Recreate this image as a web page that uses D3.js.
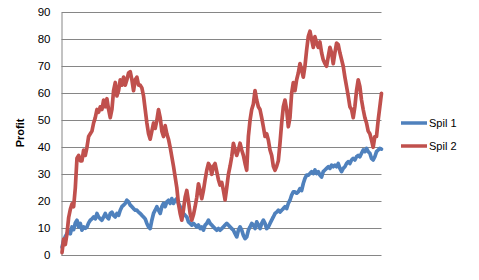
<!DOCTYPE html>
<html>
<head>
<meta charset="utf-8">
<script src="https://cdn.jsdelivr.net/npm/d3@7"></script>
<style>
  body { margin: 0; background: #fff; }
  text { font-family: "Liberation Sans", Arial, sans-serif; }
</style>
</head>
<body>
<script>
var width = 479, height = 280;

var seriesNames = ["Spil 1", "Spil 2"];
var yTicks = [0, 10, 20, 30, 40, 50, 60, 70, 80, 90];

// values, left to right
var spil1 = [
  3, 5.5, 7, 8, 9, 8, 10.5, 9.5, 12, 13, 10.5, 11.8, 9.3, 10.5, 10, 10.5, 12, 13, 13.5, 14.2,
  13.5, 15.5, 14.2, 13.5, 13, 14.2, 15.5, 14.2, 13.5, 15.5, 16, 14.8, 14.2, 15.5, 14.8, 16.7, 18, 18.6, 19.2, 20.4,
  19.8, 18.6, 18, 17.3, 16.7, 16.7, 16,
  15.5, 14.8, 14.2, 13.5, 11.8, 10.5, 9.9, 13, 15.5, 16.7, 18, 16.7, 15.5, 18, 19.2, 18, 19.8, 20.4, 19.2, 21,
  19.2, 20.4, 21, 19.2, 18, 16.7, 15.5, 14.8, 14.2, 12.4, 11.8, 11.2, 11.8, 11.2, 10.5, 11.2, 9.9, 10.5, 9.3, 11.2,
  11.8, 13, 11.8, 11.2, 10.5, 9.9, 9.3, 9.9,
  9.3, 9.9, 10.5, 11.2, 11.8, 11.2, 10.5, 9.9, 9.3, 8, 6.8, 9.3, 10.5, 9.3, 7.4, 6.2, 6.8, 9.3, 10.5, 11.8,
  11.2, 9.9, 12.4, 11.2, 9.9, 11.8, 13, 11.8, 9.9, 10.5, 11.8, 13, 14.2, 15.5, 16, 16.7, 16, 16.7, 17.3, 18,
  17.3, 19.2, 20.4, 22.3, 23.5, 23.5, 23, 23.5,
  24.7, 24, 26.6, 28.5, 29.7, 29.7, 30.3, 31, 30.3, 31.6, 30.3, 31, 29.7, 29, 31, 31.6, 32.2, 32.8, 32.2, 33.4,
  32.8, 33.4, 32.8, 34, 32.2, 31, 32.2, 32.8, 34, 34.7, 34, 35.3, 35.9, 35.3, 36.5, 37, 36.5, 37.8, 39, 38.4,
  39.6, 38.4, 37.8, 35.9, 35.3, 36.5, 38.4, 39, 39.6, 39.3
];

var spil2 = [
  1, 6, 4, 8, 14, 17, 19, 18, 25, 36, 37, 35, 35, 39, 37, 40, 44, 45, 46, 49,
  51, 54, 53, 55, 54, 57.5, 55, 58, 54, 51, 54, 61, 64, 59, 61, 65, 63, 66, 63, 65,
  67.5, 68, 65, 61, 65, 66, 63,
  63, 62, 59, 54, 49, 45, 43, 46, 49, 47, 50, 54, 51, 46, 44, 48, 45, 43, 40, 36.5,
  33, 29, 25, 19, 15.5, 13, 17, 21.5, 24, 20, 15.5, 13, 15, 18, 21.5, 26.5, 24, 21, 24, 28,
  31.5, 34, 33, 30, 33, 34, 31, 28,
  26, 27, 24, 20.5, 25, 30, 33, 36.5, 41.5, 39, 37, 39, 41.5, 39, 37, 34, 31.5, 44, 50, 54,
  56, 61, 57.5, 55, 54, 51, 47.6, 44, 45, 42.7, 39, 37, 33, 31.5, 33, 35, 41.5, 49, 55, 57.5,
  54, 47.6, 51, 60, 64, 61, 65, 67.5,
  71, 68.7, 66, 70, 76, 81, 83, 80, 77, 81, 78.6, 77, 79, 75, 72.4, 71, 70, 73.6, 77, 75,
  71, 75, 78.6, 78, 75, 72.5, 70, 66, 62.5, 59, 55, 54, 51, 55, 61, 65, 62.5, 57.5, 54, 51,
  49, 46, 45, 42.7, 40, 44, 44, 50, 55, 60
];

var colors = ["#4f81bd", "#c0504d"];

var plotLeft = 61.5, plotRight = 381.5, plotTop = 12.3, plotBottom = 255.3;

var svg = d3.select("body")
            .append("svg")
            .attr("width", width)
            .attr("height", height);

svg.append("rect")
   .attr("width", width)
   .attr("height", height)
   .attr("fill", "#fff");

var x = d3.scaleLinear()
          .domain([0, spil2.length - 1])
          .range([plotLeft + 0.5, plotRight]);

var y = d3.scaleLinear()
          .domain([0, 90])
          .range([plotBottom, plotTop]);

// gridlines
svg.selectAll("line.grid")
   .data(yTicks)
   .enter()
   .append("line")
   .attr("class", "grid")
   .attr("x1", plotLeft)
   .attr("x2", plotRight)
   .attr("y1", function(d) { return Math.round(y(d)) + 0.5; })
   .attr("y2", function(d) { return Math.round(y(d)) + 0.5; })
   .attr("stroke", "#868686")
   .attr("stroke-width", 1);

// y axis
var yAxis = d3.axisLeft(y)
              .tickValues(yTicks)
              .tickSize(0)
              .tickPadding(11);

var gy = svg.append("g")
            .attr("transform", "translate(" + plotLeft + ",0)")
            .call(yAxis);

gy.select(".domain")
  .attr("stroke", "#868686");

gy.selectAll("text")
  .attr("font-family", "Liberation Sans, Arial, sans-serif")
  .attr("font-size", "11.5px")
  .attr("fill", "#000");

svg.append("text")
   .text("Profit")
   .attr("transform", "translate(24,133) rotate(-90)")
   .attr("text-anchor", "middle")
   .attr("font-size", "11px")
   .attr("font-weight", "bold")
   .attr("fill", "#000");

// lines
var line = d3.line()
             .x(function(d, i) { return x(i); })
             .y(function(d) { return y(d); });

svg.selectAll("path.series")
   .data([spil1, spil2])
   .enter()
   .append("path")
   .attr("class", "series")
   .attr("d", line)
   .attr("fill", "none")
   .attr("stroke", function(d, i) { return colors[i]; })
   .attr("stroke-width", 3.7)
   .attr("stroke-linejoin", "round")
   .attr("stroke-linecap", "round");

// legend
var legend = svg.selectAll("g.legend")
                .data(seriesNames)
                .enter()
                .append("g")
                .attr("class", "legend")
                .attr("transform", function(d, i) { return "translate(401," + (123 + i * 23) + ")"; });

legend.append("line")
      .attr("x1", 0)
      .attr("x2", 26)
      .attr("stroke", function(d, i) { return colors[i]; })
      .attr("stroke-width", 3.5);

legend.append("text")
      .text(function(d) { return d; })
      .attr("x", 28)
      .attr("y", 4)
      .attr("font-size", "11px")
      .attr("fill", "#000");
</script>
</body>
</html>
